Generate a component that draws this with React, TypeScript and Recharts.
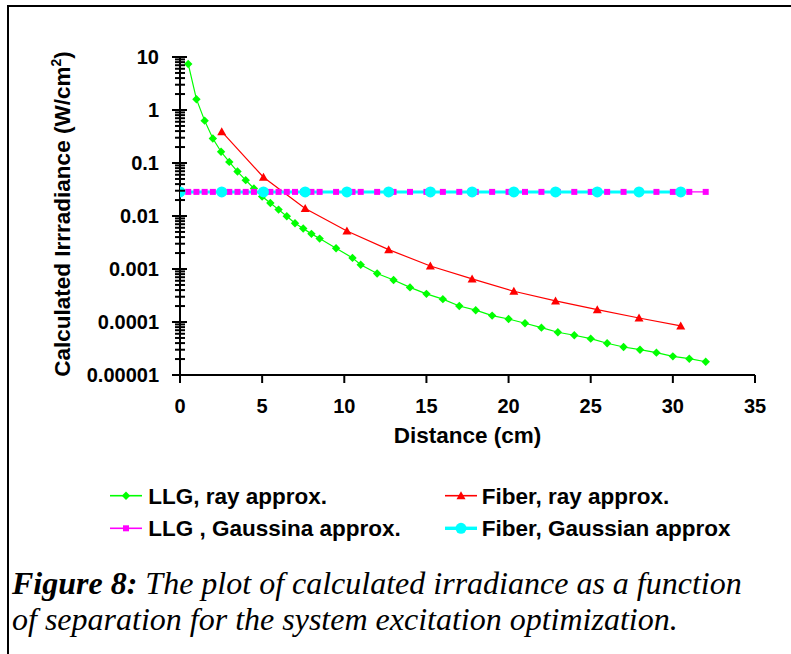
import React from "react";
import { LineChart, Line, XAxis, YAxis } from "recharts";

// distances (cm) and irradiance (W/cm^2)
const llgRayX = [
  0.5, 1, 1.5, 2, 2.5, 3, 3.5, 4, 4.5, 5, 5.5, 6, 6.5, 7, 7.5, 8, 8.5, 9.5, 10.5, 11,
  12, 13, 14, 15, 16, 17, 18, 19, 20, 21, 22, 23, 24, 25, 26, 27, 28, 29, 30, 31, 32,
];
const llgRayY = [
  7.4, 1.6, 0.63, 0.29, 0.163, 0.105, 0.069, 0.0475, 0.033, 0.0233, 0.0176, 0.0132, 0.0099,
  0.0073, 0.0058, 0.0046, 0.00375, 0.00247, 0.00162, 0.0012, 0.00082, 0.00062, 0.00045,
  0.00034, 0.00027, 0.0002, 0.000167, 0.000132, 0.000114, 0.0000946, 0.0000782, 0.0000641,
  0.0000562, 0.0000485, 0.0000397, 0.0000338, 0.00003, 0.0000264, 0.0000225, 0.0000203,
  0.0000178,
];

const fiberRayX = [2.54, 5.08, 7.62, 10.16, 12.7, 15.24, 17.78, 20.32, 22.86, 25.4, 27.94, 30.48];
const fiberRayY = [
  0.39, 0.054, 0.0139, 0.0052, 0.00232, 0.00114, 0.00065, 0.00038, 0.00025, 0.000171,
  0.000119, 0.0000842,
];

const llgGaussX = [
  0.5, 1, 1.5, 2, 2.5, 3, 3.5, 4, 4.5, 5, 5.5, 6, 6.5, 7, 7.5, 8, 8.5, 9.5, 10.5, 11,
  12, 13, 14, 15, 16, 17, 18, 19, 20, 21, 22, 23, 24, 25, 26, 27, 28, 29, 30, 31, 32,
];
const llgGaussY = [
  0.0285, 0.0285, 0.0285, 0.0285, 0.0285, 0.0285, 0.0285, 0.0285, 0.0285, 0.0285, 0.0285,
  0.0285, 0.0285, 0.0285, 0.0285, 0.0285, 0.0285, 0.0285, 0.0285, 0.0285, 0.0285, 0.0285,
  0.0285, 0.0285, 0.0285, 0.0285, 0.0285, 0.0285, 0.0285, 0.0285, 0.0285, 0.0285, 0.0285,
  0.0285, 0.0285, 0.0285, 0.0285, 0.0285, 0.0285, 0.0285, 0.0285,
];

const fiberGaussX = [0, 2.54, 5.08, 7.62, 10.16, 12.7, 15.24, 17.78, 20.32, 22.86, 25.4, 27.94, 30.48];
const fiberGaussY = [
  0.0285, 0.0285, 0.0285, 0.0285, 0.0285, 0.0285, 0.0285, 0.0285, 0.0285, 0.0285, 0.0285,
  0.0285, 0.0285,
];

const xTicks = [0, 5, 10, 15, 20, 25, 30, 35];
const yMajorTicks = [0.00001, 0.0001, 0.001, 0.01, 0.1, 1, 10];
const yTickLabels = ["0.00001", "0.0001", "0.001", "0.01", "0.1", "1", "10"];
const yMinorSteps = [2, 3, 4, 5, 6, 7, 8, 9];

const legendNames = ["LLG, ray approx.", "Fiber, ray approx.", "LLG , Gaussina approx.", "Fiber, Gaussian approx"];

const GREEN = "#00ff00";
const RED = "#ff0000";
const MAGENTA = "#ff00ff";
const CYAN = "#00ffff";
const SANS = "'Liberation Sans', Arial, sans-serif";
const SERIF = "'Liberation Serif', 'Times New Roman', serif";

const yTicks = [
  ...yMajorTicks,
  ...yMajorTicks.slice(0, -1).flatMap((d) => yMinorSteps.map((m) => d * m)),
].sort((a, b) => a - b);

const zip = (xs: number[], ys: number[]) => xs.map((x, i) => ({ x, y: ys[i] }));

// marker shapes
const diamond = (cx: number, cy: number, key?: any) => (
  <polygon key={key} points={`${cx},${cy - 4.2} ${cx + 4.2},${cy} ${cx},${cy + 4.2} ${cx - 4.2},${cy}`} fill={GREEN} />
);
const triangle = (cx: number, cy: number, key?: any) => (
  <polygon key={key} points={`${cx},${cy - 4.5} ${cx + 4.5},${cy + 3.5} ${cx - 4.5},${cy + 3.5}`} fill={RED} />
);
const square = (cx: number, cy: number, key?: any) => (
  <rect key={key} x={cx - 3} y={cy - 3} width={6} height={6} fill={MAGENTA} />
);
const circle = (cx: number, cy: number, key?: any) => (
  <circle key={key} cx={cx} cy={cy} r={5.5} fill={CYAN} />
);

const series = [
  { name: legendNames[0], data: zip(llgRayX, llgRayY), color: GREEN, width: 1.2, marker: diamond },
  { name: legendNames[1], data: zip(fiberRayX, fiberRayY), color: RED, width: 1.2, marker: triangle },
  { name: legendNames[2], data: zip(llgGaussX, llgGaussY), color: MAGENTA, width: 1.2, marker: square },
  { name: legendNames[3], data: zip(fiberGaussX, fiberGaussY), color: CYAN, width: 3, marker: circle },
];

function YTick(props: any) {
  const { x, y, payload } = props;
  const i = yMajorTicks.indexOf(payload.value);
  const major = i >= 0;
  return (
    <g>
      <line x1={x - (major ? 8 : 5)} x2={x + (major ? 7 : 5)} y1={y} y2={y} stroke="#000" strokeWidth={2} />
      {major && (
        <text x={x - 21} y={y} dy="0.36em" textAnchor="end" fontSize={20} fontWeight="bold" fill="#000" fontFamily={SANS}>
          {yTickLabels[i]}
        </text>
      )}
    </g>
  );
}

function Chart() {
  return (
    <LineChart width={791} height={654} margin={{ top: 57, right: 36, bottom: 239, left: 20 }}>
      <XAxis
        dataKey="x"
        type="number"
        domain={[0, 35]}
        ticks={xTicks}
        allowDataOverflow
        height={40}
        axisLine={{ stroke: "#000", strokeWidth: 2 }}
        tickLine={{ stroke: "#000", strokeWidth: 2 }}
        tickSize={8}
        tickMargin={16}
        interval={0}
        tick={{ fontSize: 20, fontWeight: "bold", fill: "#000", fontFamily: SANS }}
        label={(p: any) => {
          const vb = p.viewBox;
          return (
            <text x={vb.x + vb.width / 2} y={vb.y + 68} textAnchor="middle" fontSize={22.5} fontWeight="bold" fill="#000" fontFamily={SANS}>
              Distance (cm)
            </text>
          );
        }}
      />
      <YAxis
        type="number"
        scale="log"
        domain={[0.00001, 10]}
        ticks={yTicks}
        allowDataOverflow
        width={160}
        interval={0}
        axisLine={{ stroke: "#000", strokeWidth: 2 }}
        tickLine={false}
        tickSize={0}
        tickMargin={0}
        tick={<YTick />}
        label={(p: any) => {
          const vb = p.viewBox;
          const cx = vb.x + 49.5;
          const cy = vb.y + vb.height / 2 - 2;
          return (
            <text x={cx} y={cy} transform={`rotate(-90, ${cx}, ${cy})`} textAnchor="middle" fontSize={22.5} fontWeight="bold" fill="#000" fontFamily={SANS}>
              Calculated Irrradiance (W/cm
              <tspan fontSize={14} dy={-9}>2</tspan>
              <tspan dy={9}>)</tspan>
            </text>
          );
        }}
      />
      {series.map((s) => (
        <Line
          key={s.name + "-line"}
          data={s.data}
          dataKey="y"
          type="linear"
          stroke={s.color}
          strokeWidth={s.width}
          dot={false}
          activeDot={false}
          isAnimationActive={false}
        />
      ))}
      {series.map((s) => (
        <Line
          key={s.name + "-dots"}
          data={s.data}
          dataKey="y"
          type="linear"
          stroke="none"
          strokeWidth={0}
          dot={(p: any) => s.marker(p.cx, p.cy, `${s.name}-${p.index}`)}
          activeDot={false}
          isAnimationActive={false}
        />
      ))}
    </LineChart>
  );
}

function LegendAndCaption() {
  const cols = [110, 445];
  const rows = [495.7, 528.3];
  return (
    <svg width={791} height={654} style={{ position: "absolute", left: 0, top: 0, pointerEvents: "none" }}>
      {series.map((s, i) => {
        const lx = cols[i % 2];
        const ly = rows[Math.floor(i / 2)];
        return (
          <g key={s.name}>
            <line x1={lx} x2={lx + 32} y1={ly} y2={ly} stroke={s.color} strokeWidth={s.width + 0.4} />
            {s.marker(lx + 16, ly)}
            <text x={lx + 38.3 - (i % 2 ? 1.6 : 0)} y={ly + 7.8} fontSize={22.5} fontWeight="bold" fill="#000" fontFamily={SANS}>
              {s.name}
            </text>
          </g>
        );
      })}
      <text x={12} y={593.5} fontSize={32} fontStyle="italic" fill="#000" fontFamily={SERIF} style={{ whiteSpace: "pre" }}>
        <tspan fontWeight="bold">Figure 8:</tspan>
        <tspan> The plot of calculated irradiance as a function</tspan>
      </text>
      <text x={12} y={630} fontSize={32} fontStyle="italic" fill="#000" fontFamily={SERIF}>
        of separation for the system excitation optimization.
      </text>
    </svg>
  );
}

export default function App() {
  return (
    <div style={{ position: "fixed", left: 0, top: 0, width: 791, height: 654, overflow: "hidden", background: "#fff", fontFamily: SANS }}>
      <div style={{ position: "absolute", left: 7, top: 5, width: 900, height: 800, border: "2px solid #000" }} />
      <div style={{ position: "absolute", left: 0, top: 0 }}>
        <Chart />
      </div>
      <LegendAndCaption />
    </div>
  );
}
